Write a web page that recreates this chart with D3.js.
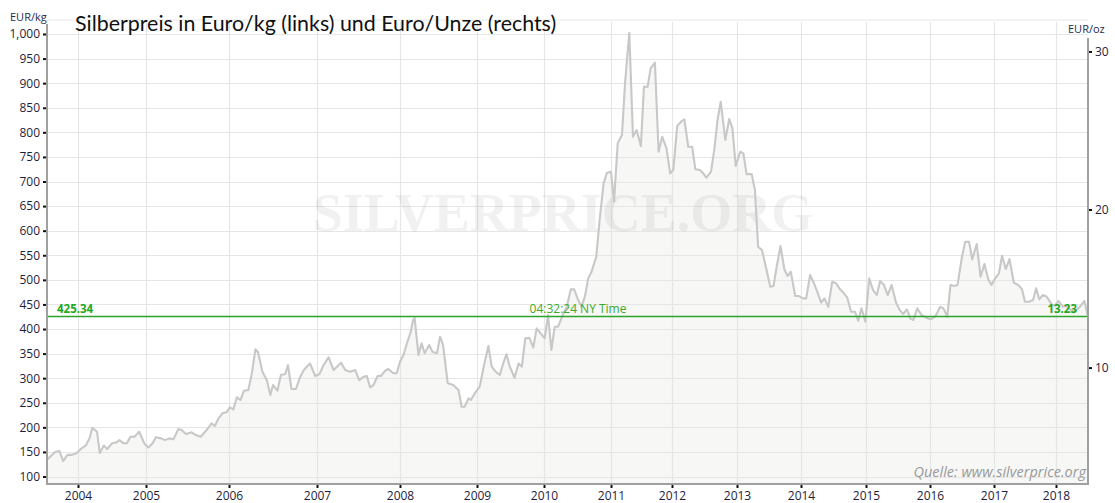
<!DOCTYPE html>
<html><head><meta charset="utf-8">
<script src="https://cdn.jsdelivr.net/npm/d3@7"></script>
<style>
html,body{margin:0;padding:0;background:#fff;}
svg{display:block;}
</style></head>
<body><svg id="chart" width="1115" height="503"></svg>
<script>
// ---------- DATA ----------
const title = "Silberpreis in Euro/kg (links) und Euro/Unze (rechts)";
const times = [2003.50,2003.63,2003.70,2003.76,2003.83,2003.90,2003.97,2004.05,2004.12,2004.17,2004.21,2004.28,2004.32,2004.38,2004.43,2004.50,2004.56,2004.61,2004.67,2004.72,2004.77,2004.83,2004.90,2004.98,
2005.03,2005.08,2005.12,2005.18,2005.23,2005.28,2005.33,2005.39,2005.43,2005.48,2005.55,2005.60,2005.66,2005.72,2005.79,2005.83,2005.87,2005.92,2005.97,
2006.01,2006.05,2006.09,2006.13,2006.17,2006.22,2006.26,2006.30,2006.33,2006.38,2006.43,2006.47,2006.50,2006.55,2006.59,2006.64,2006.67,2006.71,2006.76,2006.81,2006.85,2006.92,2006.98,
2007.03,2007.08,2007.14,2007.20,2007.24,2007.29,2007.34,2007.40,2007.46,2007.51,2007.56,2007.60,2007.64,2007.68,2007.73,2007.77,2007.82,2007.86,2007.92,2007.96,
2008.00,2008.05,2008.09,2008.14,2008.17,2008.19,2008.24,2008.28,2008.32,2008.38,2008.42,2008.48,2008.52,2008.56,2008.62,2008.69,2008.76,2008.80,2008.84,2008.89,2008.92,2008.97,
2009.04,2009.10,2009.17,2009.22,2009.28,2009.34,2009.39,2009.44,2009.49,2009.56,2009.62,2009.67,2009.72,2009.78,2009.84,2009.89,2009.97,
2010.01,2010.06,2010.11,2010.16,2010.21,2010.29,2010.34,2010.40,2010.45,2010.51,2010.56,2010.61,2010.66,2010.71,2010.78,2010.83,2010.89,2010.94,2011.00,
2011.05,2011.11,2011.18,2011.23,2011.30,2011.36,2011.42,2011.49,2011.54,2011.60,2011.65,2011.72,2011.78,2011.84,2011.91,2011.97,
2012.02,2012.08,2012.15,2012.19,2012.25,2012.31,2012.36,2012.43,2012.48,2012.53,2012.60,2012.65,2012.70,2012.75,2012.82,2012.88,2012.93,2012.98,
2013.05,2013.10,2013.15,2013.23,2013.28,2013.33,2013.39,2013.45,2013.52,2013.57,2013.62,2013.68,2013.74,2013.79,2013.84,2013.91,2013.97,
2014.03,2014.08,2014.14,2014.20,2014.25,2014.31,2014.36,2014.42,2014.48,2014.54,2014.60,2014.66,2014.71,2014.77,2014.83,2014.88,2014.93,2014.99,
2015.05,2015.11,2015.17,2015.22,2015.28,2015.34,2015.40,2015.47,2015.52,2015.58,2015.64,2015.69,2015.74,2015.80,2015.87,2015.94,
2016.01,2016.08,2016.16,2016.21,2016.27,2016.32,2016.38,2016.43,2016.50,2016.55,2016.61,2016.66,2016.73,2016.79,2016.85,2016.91,2016.96,
2017.02,2017.08,2017.13,2017.19,2017.25,2017.32,2017.39,2017.45,2017.50,2017.57,2017.63,2017.68,2017.73,2017.79,2017.85,2017.93,2017.98,
2018.04,2018.11,2018.16,2018.23,2018.28,2018.34,2018.39,2018.46,2018.52];
const pricePerKg = [134,150,152,131.5,144,144,147,157,164,178,199,191,148,163,156,167.5,169,174,167.5,167.5,181,181,191,166,
159,167.5,180,177.6,174,177.6,175.6,196.6,194.6,186.4,189.9,184.4,181,192.5,208,202.7,217,228.5,230.6,
240.7,236.7,261,255.6,274.5,276,310,358.7,352.6,313,296,265.7,286,274.5,306.4,308.5,326.8,278,278,303,316.6,330,304.4,
308.5,326.8,342.4,316.6,323.3,331.4,316.6,313,316.6,296,303,304.4,281.4,286,304.4,304.4,315,318.6,310,310,
333.5,349,371,394.5,418,422,347,371,350.6,367.4,353.8,350.6,384.3,367.4,289.5,286,276,242,242,259,255.6,269,
282.6,323.3,365.4,323.3,313,306.4,330,348.5,323.3,301,330,323.3,381,382.3,362,401.4,387.8,
381,428.4,357.3,404.7,404.7,432,445.4,480.7,480.7,459,445.4,465.7,503,516.5,547,621.7,696.3,718,720,
659,777.7,794.5,899.7,1002.6,791,804.7,772,892.8,892.8,930,941.6,760.6,791,767.5,716.6,
723.4,812.8,823,826.5,770.7,770.7,724.8,723.4,716.6,707.7,720,764,825,862.3,784.4,827,808,731.5,
760.6,757.3,715,715,682.7,567.4,560.6,526.7,486,487.4,526.7,568.8,521.4,507.8,516.5,467,467,
462.4,462.4,509.8,493,475.9,453.5,462.4,445.3,496.2,493,480.7,472.6,464.4,435.2,435.2,416.9,442,414.8,
503,479.3,469.1,497.6,489.5,469.1,489.5,453.5,440,430.5,440,421.7,418.3,442,428.4,423,
419.7,425,445.3,442,425,489.5,487.4,489.5,547,577.5,577.5,541.7,572.8,506.3,532.2,501,489.5,
503,513.3,549,522,542.3,494.2,489.5,481.4,455.5,455.5,459,482.8,460.4,469.1,465.7,450.2,446.8,
457,445.3,446.8,440,437.2,440,445.3,457,425.34];
const currentKg = 425.34;
const currentOz = 13.23;
const currentTime = "04:32:24 NY Time";
const yearTicks = [2004,2005,2006,2007,2008,2009,2010,2011,2012,2013,2014,2015,2016,2017,2018];
const kgTicks = d3.range(100, 1001, 50);
const ozTicks = [10, 20, 30];
const ozPerKg = 32.1507466; // troy ounces per kg
const source = "Quelle: www.silverprice.org";
const watermark = "SILVERPRICE.ORG";

// ---------- LAYOUT ----------
const L = 47, R = 1088, T = 22, B = 483;
// x breakpoints (time axis is not uniform in the original)
const xBreakYears = [2003.5, ...yearTicks, 2018.52];
const xBreakPx = [47, 78, 146, 229, 317, 400, 477, 544, 611, 672, 737, 801, 866, 930, 994, 1056, 1088];

const svg = d3.select("#chart");
const x = d3.scaleLinear().domain(xBreakYears).range(xBreakPx);
const y = d3.scaleLinear().domain([86.8, 1024.4]).range([B, T]);
const yOz = d3.scaleLinear().domain(y.domain().map(v => v / ozPerKg)).range([B, T]);

const data = times.map((t, i) => ({t, v: pricePerKg[i]}));

// background
svg.append("rect").attr("x", L).attr("y", T).attr("width", R - L).attr("height", B - T).attr("fill", "#fff");

// area fill
svg.append("path").datum(data)
  .attr("d", d3.area().x(d => x(d.t)).y0(B).y1(d => y(d.v)))
  .attr("fill", "#f7f7f5");

// grid
const grid = svg.append("g");
grid.selectAll("line.h").data(kgTicks).join("line")
  .attr("x1", L).attr("x2", R).attr("y1", d => Math.round(y(d)) + 0.5).attr("y2", d => Math.round(y(d)) + 0.5)
  .attr("stroke", "#e6e6e6").attr("stroke-width", 1.2);
grid.selectAll("line.v").data(yearTicks).join("line")
  .attr("y1", T).attr("y2", B).attr("x1", d => Math.round(x(d)) + 0.5).attr("x2", d => Math.round(x(d)) + 0.5)
  .attr("stroke", "#e6e6e6").attr("stroke-width", 1.2);
grid.append("line").attr("x1", L).attr("x2", R + 0).attr("y1", T - 2).attr("y2", T - 2)
  .attr("stroke", "#e8e8e8").attr("stroke-width", 1);

// watermark
svg.append("text").attr("x", 563).attr("y", 231).attr("text-anchor", "middle")
  .attr("font-family", "Liberation Serif, DejaVu Serif, serif").attr("font-weight", "bold")
  .attr("font-size", 54).attr("fill", "#000").attr("fill-opacity", 0.055).text(watermark);

// price line
svg.append("path").datum(data)
  .attr("d", d3.line().x(d => x(d.t)).y(d => y(d.v)))
  .attr("fill", "none").attr("stroke", "#c8c8c8").attr("stroke-width", 2.1).attr("stroke-linejoin", "round");

// current price line
const yc = y(currentKg);
svg.append("line").attr("x1", L).attr("x2", R).attr("y1", yc).attr("y2", yc)
  .attr("stroke", "#2aa52a").attr("stroke-width", 1.4);
svg.append("text").attr("x", 57).attr("y", yc - 4).attr("font-family", "Open Sans, sans-serif")
  .attr("font-size", 11.5).attr("font-weight", "bold").attr("fill", "#22a822").text(d3.format(".2f")(currentKg));
svg.append("text").attr("x", 578).attr("y", yc - 4).attr("text-anchor", "middle").attr("font-family", "Open Sans, sans-serif")
  .attr("font-size", 12).attr("fill", "#3aaa2a").text(currentTime);
svg.append("text").attr("x", 1077).attr("y", yc - 4).attr("text-anchor", "end").attr("font-family", "Open Sans, sans-serif")
  .attr("font-size", 11.5).attr("font-weight", "bold").attr("fill", "#22a822").text(d3.format(".2f")(currentOz));

// axes
const axisFont = "Open Sans, sans-serif";
const gl = svg.append("g").attr("transform", `translate(${L},0)`)
  .call(d3.axisLeft(y).tickValues(kgTicks).tickFormat(d3.format(",")).tickSize(4).tickPadding(3));
const gr = svg.append("g").attr("transform", `translate(${R},0)`)
  .call(d3.axisRight(yOz).tickValues(ozTicks).tickSize(4).tickPadding(3));
const gb = svg.append("g").attr("transform", `translate(0,${B})`)
  .call(d3.axisBottom(x).tickValues(yearTicks).tickFormat(d3.format("d")).tickSize(5).tickPadding(3));
[gl, gr, gb].forEach(g => {
  g.select(".domain").remove();
  g.selectAll(".tick line").attr("stroke", "#111").attr("stroke-width", 2);
  g.selectAll(".tick text").attr("font-family", axisFont).attr("font-size", 12).attr("fill", "#1e1e3c");
});
// axis lines
svg.append("line").attr("x1", L).attr("x2", L).attr("y1", 24).attr("y2", B + 1).attr("stroke", "#a0a0a0").attr("stroke-width", 2);
svg.append("line").attr("x1", L - 1).attr("x2", R + 1).attr("y1", B + 1).attr("y2", B + 1).attr("stroke", "#a0a0a0").attr("stroke-width", 2);
svg.append("line").attr("x1", R).attr("x2", R).attr("y1", 38).attr("y2", B + 1).attr("stroke", "#a0a0a0").attr("stroke-width", 2);

// unit labels
svg.append("text").attr("x", 10).attr("y", 21).attr("font-family", axisFont).attr("font-size", 11).attr("fill", "#2a2a4a").text("EUR/kg");
svg.append("text").attr("x", 1068).attr("y", 33).attr("font-family", axisFont).attr("font-size", 11).attr("fill", "#2a2a4a").text("EUR/oz");

// title
svg.append("text").attr("x", 75).attr("y", 31).attr("font-family", "Lato, Open Sans, sans-serif")
  .attr("font-size", 21.4).attr("fill", "#111").text(title);

// source
svg.append("text").attr("x", 1086).attr("y", 477).attr("text-anchor", "end")
  .attr("font-family", "Open Sans, sans-serif").attr("font-style", "italic").attr("font-size", 14.5)
  .attr("fill", "#999").text(source);
</script></body></html>
